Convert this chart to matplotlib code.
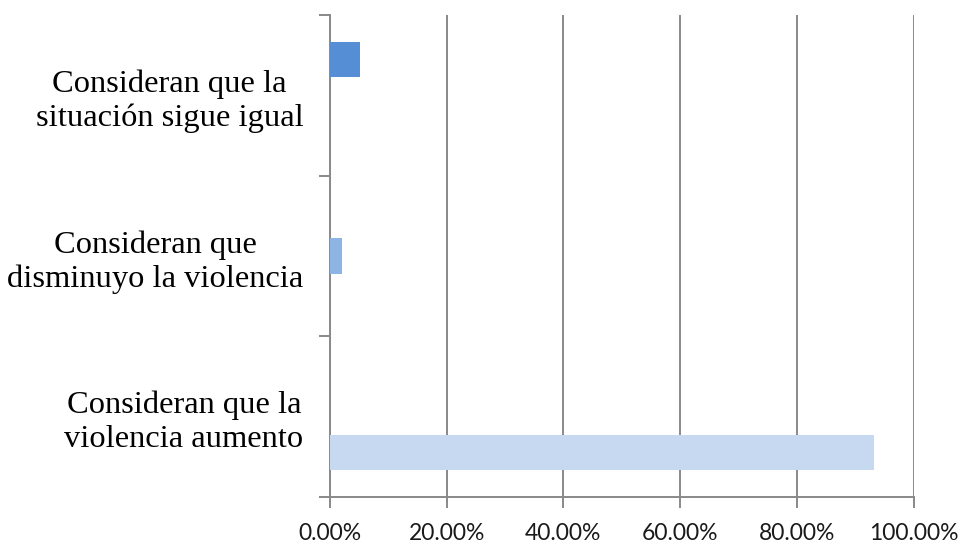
import matplotlib
matplotlib.use("Agg")
import matplotlib.pyplot as plt
import numpy as np
from matplotlib.ticker import FixedLocator, FuncFormatter

categories = ["Consideran que la\nviolencia aumento",
              "Consideran que\ndisminuyo la violencia",
              "Consideran que la\nsituación sigue igual"]
series_aumento = [93.2, 0.0, 0.0]
series_disminuyo = [0.0, 2.0, 0.0]
series_igual = [0.0, 0.0, 5.1]
x_ticks = [0, 20, 40, 60, 80, 100]

colors = ["#C6D9F1", "#8DB4E2", "#558ED5"]
grey = "#898989"

fig = plt.figure(figsize=(9.64, 5.47), dpi=100)
ax = fig.add_axes([330/964, (547-497)/547, (913.5-330)/964, (497-15)/547])

y = np.arange(len(categories))
h = 1/4.5
for i, (vals, c) in enumerate(zip([series_aumento, series_disminuyo, series_igual], colors)):
    ax.barh(y + (i-1)*h, vals, height=h, color=c, zorder=3)

ax.set_xlim(0, 100)
ax.set_ylim(-0.5, 2.5)
ax.set_xticks(x_ticks)
ax.xaxis.set_major_formatter(FuncFormatter(lambda v, p: f"{v:.2f}%"))
ax.grid(axis="x", color=grey, linewidth=1.4, zorder=0)
ax.set_axisbelow(True)

ax.set_yticks(y)
ax.set_yticklabels(categories, fontfamily="Liberation Serif", fontsize=23.4,
                   multialignment="center", linespacing=1.2)
ax.yaxis.set_minor_locator(FixedLocator([-0.5, 0.5, 1.5, 2.5]))
ax.tick_params(axis="y", which="major", length=0, pad=19)
ax.tick_params(axis="y", which="minor", length=8, width=1.4, color=grey, direction="out")
ax.tick_params(axis="x", length=8, width=1.4, color=grey, direction="out", pad=11)
for lab in ax.get_xticklabels():
    lab.set_fontfamily("Lato")
    lab.set_fontsize(16.5)
    lab.set_color("#1a1a1a")

for s in ["top", "right"]:
    ax.spines[s].set_visible(False)
for s in ["left", "bottom"]:
    ax.spines[s].set_color(grey)
    ax.spines[s].set_linewidth(1.4)

fig.savefig("out.png", dpi=100)
